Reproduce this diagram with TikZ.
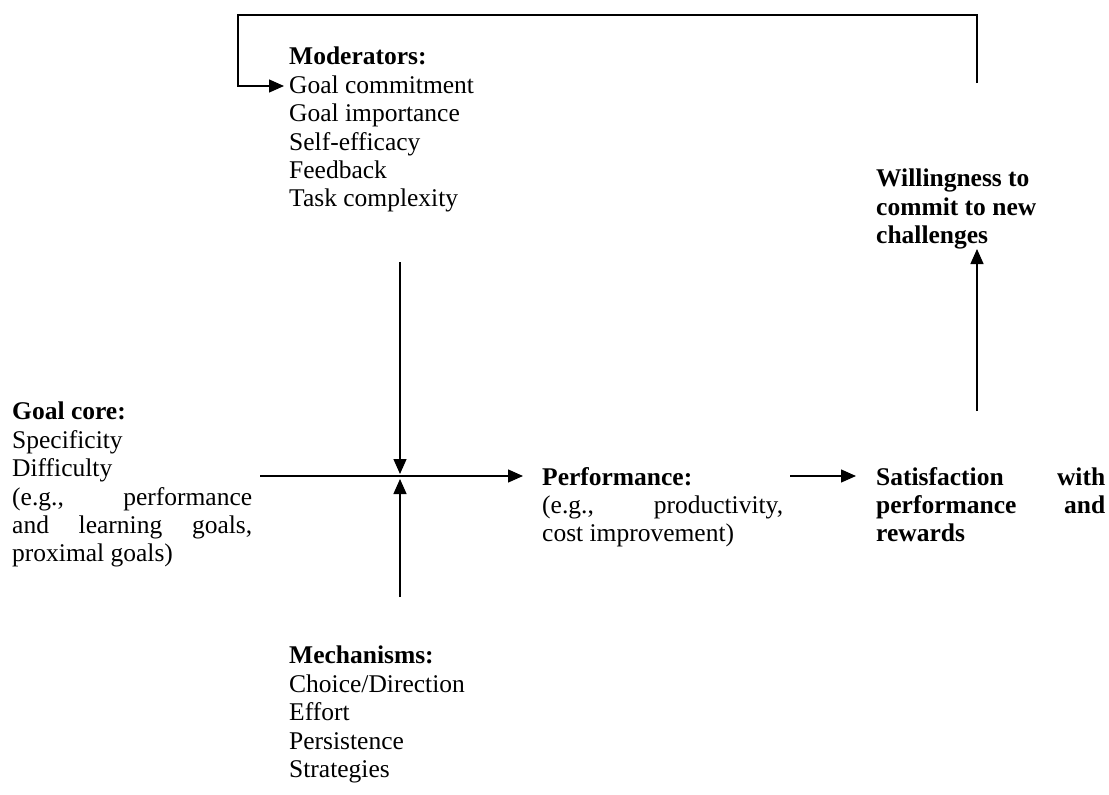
\documentclass[tikz,border=0pt]{standalone}
\usepackage{fontspec}
\setmainfont{Liberation Serif}
\usetikzlibrary{arrows.meta}
\tikzset{
  txt/.style={anchor=north west, inner sep=0pt, align=left,
    font=\fontsize{25.5}{28.4}\selectfont},
  conn/.style={line width=1.4pt, -{Triangle[length=15pt,width=13pt]}},
}
\newcommand{\jline}[2]{\makebox[#1][s]{#2}}
\begin{document}
\begin{tikzpicture}[x=1pt,y=-1pt]
\useasboundingbox (0,0) rectangle (1109,795);
% text blocks
\node[txt] (mod) at (289,47) {\textbf{Moderators:}\\Goal commitment\\Goal importance\\Self-efficacy\\Feedback\\Task complexity};
\node[txt] (will) at (876,169) {\textbf{Willingness to}\\\textbf{commit to new}\\\textbf{challenges}};
\node[txt] (core) at (12,402) {\textbf{Goal core:}\\Specificity\\Difficulty\\\jline{240pt}{(e.g., performance}\\\jline{240pt}{and learning goals,}\\proximal goals)};
\node[txt] (perf) at (542,467) {\textbf{Performance:}\\\jline{241pt}{(e.g., productivity,}\\cost improvement)};
\node[txt] (sat) at (876,467) {\textbf{\jline{229pt}{Satisfaction with}}\\\textbf{\jline{229pt}{performance and}}\\\textbf{rewards}};
\node[txt] (mech) at (289,646) {\textbf{Mechanisms:}\\Choice/Direction\\Effort\\Persistence\\Strategies};
% connector end points
\coordinate (modbot) at (400,262);
\coordinate (mechtop) at (400,597);
\coordinate (crossdn) at (400,474);
\coordinate (crossup) at (400,479);
\coordinate (coreR) at (260,476);
\coordinate (perfL) at (523,476);
\coordinate (perfR) at (790,476);
\coordinate (satL) at (856,476);
\coordinate (satT) at (977,411);
\coordinate (willB) at (977,249);
\coordinate (willT) at (977,83);
\coordinate (topR) at (977,15);
\coordinate (topL) at (238,15);
\coordinate (modL) at (238,86);
\coordinate (modIn) at (284,86);
% connectors
\draw[conn] (coreR) -- (perfL);
\draw[conn] (modbot) -- (crossdn);
\draw[conn] (mechtop) -- (crossup);
\draw[conn] (perfR) -- (satL);
\draw[conn] (satT) -- (willB);
\draw[conn] (willT) -- (topR) -- (topL) -- (modL) -- (modIn);
\end{tikzpicture}
\end{document}
